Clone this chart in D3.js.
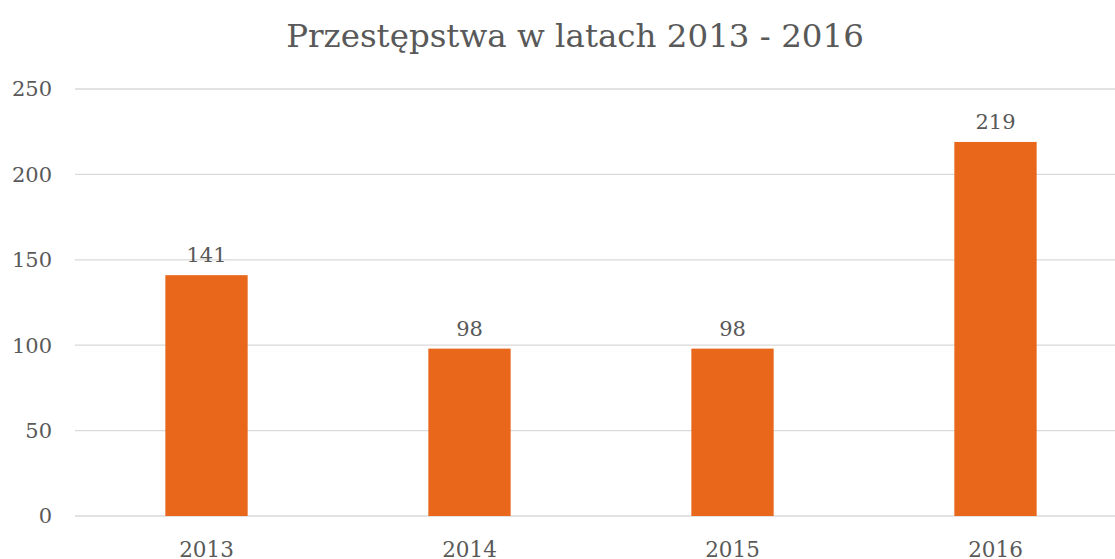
<!DOCTYPE html>
<html>
<head>
<meta charset="utf-8">
<script src="https://cdn.jsdelivr.net/npm/d3@7"></script>
<style>
  body { margin: 0; background: #fff; }
  text { font-family: "DejaVu Serif", serif; fill: #595959; }
</style>
</head>
<body>
<svg id="chart"></svg>
<script>
// data
var years = ["2013", "2014", "2015", "2016"];
var crimes = [141, 98, 98, 219];
var yTicks = [0, 50, 100, 150, 200, 250];

var width = 1115, height = 559;
var margin = {top: 89, right: -12, bottom: 43, left: 75};

const svg = d3.select("#chart")
    .attr("width", width)
    .attr("height", height);

// scales
const x = d3.scaleBand()
    .domain(years)
    .range([margin.left, width - margin.right])
    .padding(0);

const y = d3.scaleLinear()
    .domain([0, 250])
    .range([height - margin.bottom, margin.top]);

// gridlines
svg.append("g")
  .selectAll("line")
  .data(yTicks)
  .enter()
  .append("line")
    .attr("x1", margin.left)
    .attr("x2", width)
    .attr("y1", d => y(d))
    .attr("y2", d => y(d))
    .attr("stroke", "#d9d9d9")
    .attr("stroke-width", 1.3);

// y labels
svg.append("g")
  .selectAll("text")
  .data(yTicks)
  .enter()
  .append("text")
    .attr("x", 52)
    .attr("y", d => y(d))
    .attr("dy", "0.35em")
    .attr("text-anchor", "end")
    .style("font-size", "21px")
    .text(d => d);

// bars
var barW = x.bandwidth() * 0.313;
svg.append("g")
  .selectAll("rect")
  .data(crimes)
  .enter()
  .append("rect")
    .attr("x", (d, i) => x(years[i]) + x.bandwidth() / 2 - barW / 2)
    .attr("y", d => y(d))
    .attr("width", barW)
    .attr("height", d => y(0) - y(d))
    .attr("fill", "#e8671b");

// value labels
svg.append("g")
  .selectAll("text")
  .data(crimes)
  .enter()
  .append("text")
    .attr("x", (d, i) => x(years[i]) + x.bandwidth() / 2)
    .attr("y", d => y(d) - 13)
    .attr("text-anchor", "middle")
    .style("font-size", "21px")
    .text(d => d);

// x labels
svg.append("g")
  .selectAll("text")
  .data(years)
  .enter()
  .append("text")
    .attr("x", d => x(d) + x.bandwidth() / 2)
    .attr("y", 557)
    .attr("text-anchor", "middle")
    .style("font-size", "21.5px")
    .text(d => d);

// title
svg.append("text")
    .attr("x", 575)
    .attr("y", 47)
    .attr("text-anchor", "middle")
    .style("font-size", "32.5px")
    .text("Przestępstwa w latach 2013 - 2016");
</script>
</body>
</html>
